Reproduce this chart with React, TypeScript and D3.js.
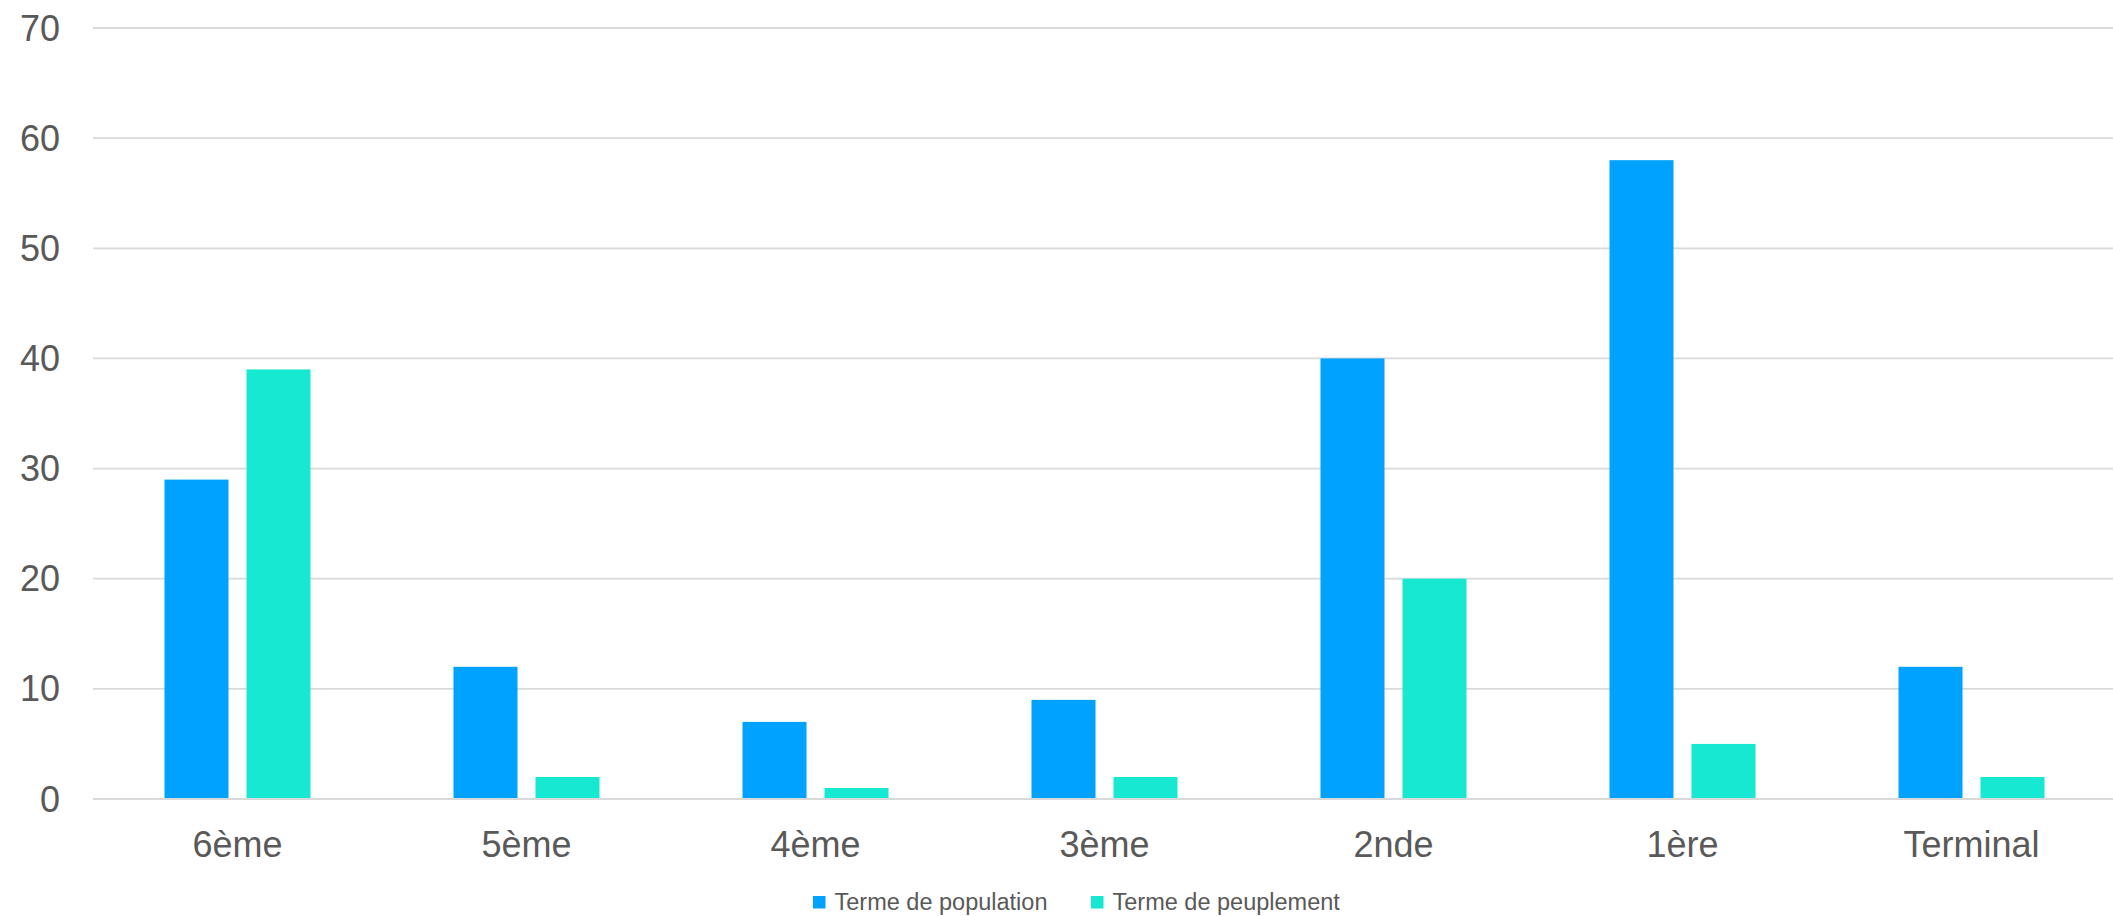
import React from "react";
import * as d3 from "d3";

const categories = ["6ème", "5ème", "4ème", "3ème", "2nde", "1ère", "Terminal"];
const seriesNames = ["Terme de population", "Terme de peuplement"];
const population = [29, 12, 7, 9, 40, 58, 12];
const peuplement = [39, 2, 1, 2, 20, 5, 2];
const yTicks = [0, 10, 20, 30, 40, 50, 60, 70];
const colors = ["#00A2FF", "#17E8D1"];

const W = 2113;
const H = 916;
const FONT = "'Liberation Sans', Arial, sans-serif";
const TEXT = "#595959";

export default function App() {
  const left = 93;
  const right = 2116;
  const y = d3.scaleLinear().domain([0, 70]).range([799, 28]);
  const x = d3.scaleBand<string>().domain(categories).range([left, right]).paddingInner(0).paddingOuter(0);
  const inner = d3
    .scaleBand<number>()
    .domain([0, 1])
    .range([71.5, 71.5 + 146])
    .paddingInner(18 / 82)
    .paddingOuter(0);
  const series = [population, peuplement];

  return (
    <div style={{ position: "absolute", left: 0, top: 0 }}>
      <svg width={W} height={H} style={{ display: "block", background: "#fff" }}>
        {yTicks.map((t) => (
          <g key={t}>
            <line x1={left} x2={W} y1={y(t)} y2={y(t)} stroke="#d9d9d9" strokeWidth={1.8} />
            <text
              x={60}
              y={y(t)}
              dy="0.35em"
              textAnchor="end"
              fontFamily={FONT}
              fontSize={36}
              fill={TEXT}
            >
              {t}
            </text>
          </g>
        ))}
        {series.map((vals, si) =>
          vals.map((v, i) => (
            <rect
              key={`${si}-${i}`}
              x={(x(categories[i]) as number) + (inner(si) as number)}
              y={y(v)}
              width={inner.bandwidth()}
              height={y(0) - y(v)}
              fill={colors[si]}
            />
          ))
        )}
        <line x1={left} x2={W} y1={y(0)} y2={y(0)} stroke="#d9d9d9" strokeWidth={1.8} />
        {categories.map((c) => (
          <text
            key={c}
            x={(x(c) as number) + x.bandwidth() / 2}
            y={857}
            textAnchor="middle"
            fontFamily={FONT}
            fontSize={36}
            fill={TEXT}
          >
            {c}
          </text>
        ))}
        {seriesNames.map((n, i) => {
          const lx = [813, 1091][i];
          return (
            <g key={n}>
              <rect x={lx} y={896} width={12.5} height={12.5} fill={colors[i]} />
              <text x={lx + 21.5} y={910} fontFamily={FONT} fontSize={23.5} fill={TEXT}>
                {n}
              </text>
            </g>
          );
        })}
      </svg>
    </div>
  );
}
